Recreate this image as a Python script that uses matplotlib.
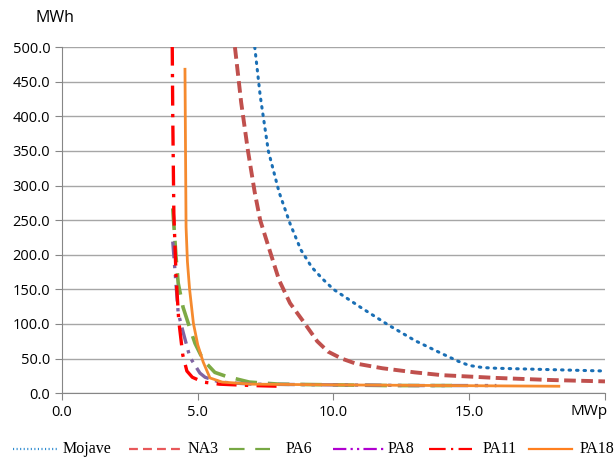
import numpy as np
import matplotlib.pyplot as plt
from matplotlib.lines import Line2D

# Datos (MWp, MWh)
mojave_x = [7.1, 7.3, 7.6, 8.0, 8.4, 8.8, 9.2, 9.6, 10.0, 11.0, 12.0, 13.0, 14.0, 14.6, 15.0, 15.5, 16.0, 18.0, 20.0]
mojave_y = [500, 430, 350, 290, 245, 207, 182, 165, 150, 124, 99, 76, 57, 46, 40, 37, 36, 34, 32]

na3_x = [6.37, 6.6, 6.85, 7.1, 7.3, 7.7, 8.0, 8.4, 8.9, 9.4, 9.8, 10.3, 10.8, 11.8, 13.0, 14.0, 16.0, 18.0, 20.0]
na3_y = [500, 420, 350, 290, 250, 200, 163, 130, 103, 75, 60, 50, 43, 36, 30, 26, 22, 19, 17]

pa6_x = [4.08, 4.2, 4.28, 4.46, 4.65, 4.9, 5.2, 5.63, 6.07, 6.9, 8.0, 10.0, 12.0, 14.5]
pa6_y = [267, 197, 159, 124, 101, 72, 48, 30, 24, 16, 13, 12, 11, 11]

pa8_x = [4.08, 4.16, 4.28, 4.47, 4.71, 5.08, 5.27, 5.8, 7.0, 10.0, 13.0, 16.0]
pa8_y = [219, 178, 116, 87, 52, 29, 23, 16, 13, 12, 11, 11]

pa11_x = [4.05, 4.08, 4.12, 4.2, 4.3, 4.45, 4.6, 4.8, 5.2, 5.8, 7.0, 8.0]
pa11_y = [560, 400, 260, 170, 105, 55, 32, 23, 16, 13, 11, 10]

pa18_x = [4.53, 4.55, 4.57, 4.62, 4.7, 4.84, 5.0, 5.2, 5.45, 5.9, 7.0, 10.0, 14.0, 18.3]
pa18_y = [468, 350, 240, 190, 150, 101, 70, 45, 22, 16, 13, 12, 11, 10]

nombres = ['Mojave', 'NA3', 'PA6', 'PA8', 'PA11', 'PA18']

W, H = 615, 462
fig = plt.figure(figsize=(W / 100, H / 100), dpi=100)
ax = fig.add_axes([0.1008, 0.149, 0.8829, 0.749])

ax.plot(mojave_x, mojave_y, color='#1A6FB5', lw=2.2, linestyle=(0, (0.5, 1.95)), dash_capstyle='round')
ax.plot(na3_x, na3_y, color='#C0504D', lw=2.8, linestyle=(0, (3, 1.4)))
ax.plot(pa6_x, pa6_y, color='#7DAA45', lw=2.6, linestyle=(0, (6, 3)))
ax.plot(pa8_x, pa8_y, color='#8064A2', lw=2.4, linestyle=(0, (5, 2, 1, 2, 1, 2)))
ax.plot(pa11_x, pa11_y, color='#FF0000', lw=2.4, linestyle=(0, (6, 2.5, 1, 2.5)))
ax.plot(pa18_x, pa18_y, color='#F58A2E', lw=2.0)

ax.set_xlim(0, 20)
ax.set_ylim(0, 500)
ax.set_xticks([0, 5, 10, 15, 20])
ax.set_xticklabels(['0.0', '5.0', '10.0', '15.0', ''])
ax.set_yticks(np.arange(0, 501, 50))
ax.set_yticklabels(['%.1f' % v for v in np.arange(0, 501, 50)])
ax.yaxis.grid(True, color='#A6A6A6', lw=1)
ax.set_axisbelow(True)
for s in ['top', 'right']:
    ax.spines[s].set_visible(False)
for s in ['left', 'bottom']:
    ax.spines[s].set_color('#868686')
ax.tick_params(colors='#868686', length=5, labelsize=10.5, labelcolor='black', labelfontfamily='Open Sans')

fig.text(0.089, 0.962, 'MWh', fontsize=11.5, family='Open Sans', ha='center', va='center')
fig.text(0.958, 0.11, 'MWp', fontsize=11, family='Open Sans', ha='center', va='center')

# Leyenda dibujada a mano (espaciado irregular como en el original)
leyenda = [
    (13, 57, 63, '#2E8BD0', 1.6, (0, (0.5, 1.1))),
    (129, 180, 188, '#E8585A', 1.6, (0, (4.0, 2.3))),
    (229, 270, 286, '#77A844', 1.6, (0, (7.0, 4.8))),
    (333, 386, 388, '#B000D0', 1.6, (0, (6.0, 1.9, 1, 1.9, 1, 1.9))),
    (429, 472, 483, '#FF0000', 1.6, (0, (7.5, 2.4, 1, 2.4))),
    (529, 572, 580, '#FF7F1E', 1.6, '-'),
]
yl = (H - 449) / H
for (x0, x1, xt, c, lw, ls), nombre in zip(leyenda, nombres):
    fig.add_artist(Line2D([x0 / W, x1 / W], [yl, yl], transform=fig.transFigure,
                          color=c, lw=lw, linestyle=ls))
    fig.text(xt / W, yl, nombre, fontsize=11.5, family='Liberation Serif', ha='left', va='center')

fig.savefig('out.png', dpi=100)
